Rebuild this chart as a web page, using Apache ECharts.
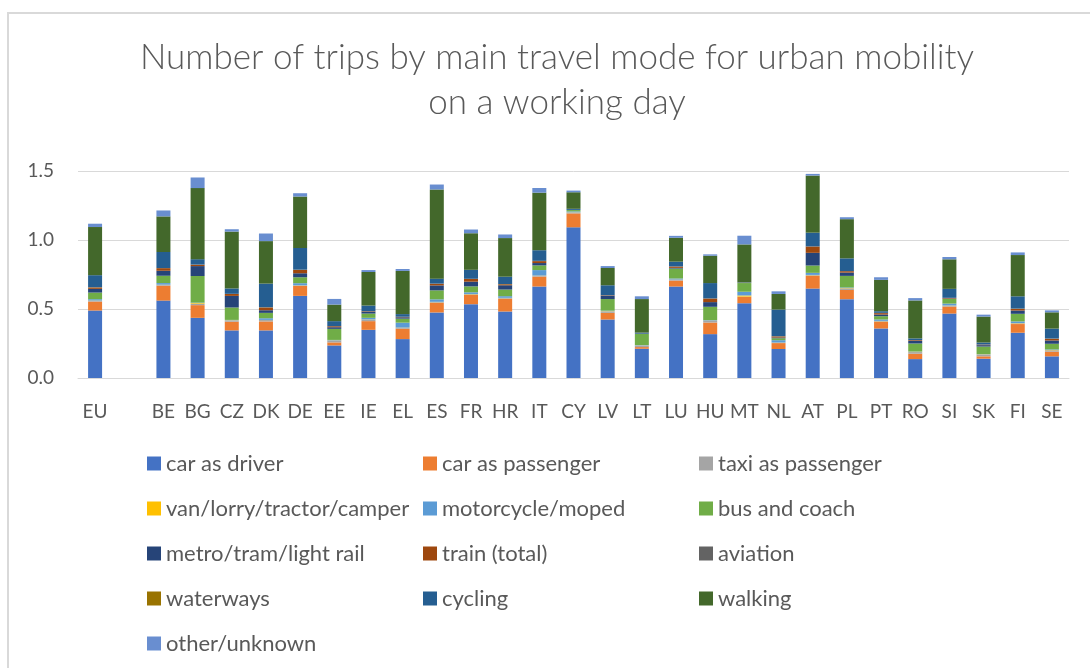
<!DOCTYPE html>
<html>
<head>
<meta charset="utf-8">
<title>urban mobility</title>
<script src="https://cdn.jsdelivr.net/npm/echarts@6/dist/echarts.min.js"></script>
<style>
  html, body { margin: 0; padding: 0; background: #fff; }
  #frame { position: absolute; left: 7px; top: 12px; width: 1200px; height: 800px;
           border-left: 2px solid #d9d9d9; border-top: 2px solid #d9d9d9; }
  #main { position: absolute; left: 0; top: 0; width: 1090px; height: 668px; }
</style>
</head>
<body>
<div id="frame"></div>
<div id="main"></div>
<script>
const countries = ['EU', '', 'BE', 'BG', 'CZ', 'DK', 'DE', 'EE', 'IE', 'EL', 'ES', 'FR', 'HR', 'IT', 'CY',
  'LV', 'LT', 'LU', 'HU', 'MT', 'NL', 'AT', 'PL', 'PT', 'RO', 'SI', 'SK', 'FI', 'SE'];

const carDriver = [0.489, null, 0.561, 0.436, 0.345, 0.345, 0.595, 0.236, 0.349, 0.282, 0.475, 0.535, 0.482, 0.663, 1.092,
  0.424, 0.212, 0.663, 0.318, 0.542, 0.210, 0.648, 0.571, 0.359, 0.137, 0.467, 0.140, 0.328, 0.157];
const carPassenger = [0.065, null, 0.108, 0.092, 0.063, 0.065, 0.072, 0.022, 0.063, 0.075, 0.070, 0.067, 0.092, 0.072, 0.101,
  0.048, 0.012, 0.043, 0.084, 0.046, 0.043, 0.092, 0.067, 0.048, 0.039, 0.051, 0.017, 0.063, 0.034];
const taxi = [0.005, null, 0.005, 0.010, 0.008, 0.010, 0.004, 0.012, 0.010, 0.006, 0.005, 0.005, 0.005, 0.005, 0.005,
  0.010, 0.010, 0.005, 0.012, 0.002, 0.003, 0.005, 0.012, 0.005, 0.012, 0.005, 0.012, 0.005, 0.010];
const van = [0.002, null, 0.002, 0.005, 0.002, 0.001, 0.001, 0.002, 0.002, 0.002, 0.002, 0.002, 0.002, 0.002, 0.002,
  0.002, 0.002, 0.002, 0.002, 0.008, 0.001, 0.002, 0.002, 0.002, 0.002, 0.002, 0.002, 0.002, 0.002];
const moto = [0.010, null, 0.012, 0.003, 0.003, 0.012, 0.015, 0.004, 0.012, 0.036, 0.018, 0.012, 0.012, 0.040, 0.007,
  0.004, 0.003, 0.008, 0.004, 0.027, 0.017, 0.015, 0.004, 0.010, 0.002, 0.014, 0.002, 0.012, 0.004];
const bus = [0.048, null, 0.053, 0.193, 0.090, 0.039, 0.043, 0.080, 0.031, 0.029, 0.065, 0.043, 0.048, 0.034, 0.010,
  0.084, 0.080, 0.072, 0.096, 0.063, 0.014, 0.053, 0.084, 0.024, 0.058, 0.034, 0.055, 0.055, 0.041];
const metro = [0.027, null, 0.036, 0.072, 0.084, 0.019, 0.029, 0.012, 0.012, 0.010, 0.036, 0.034, 0.031, 0.017, 0.000,
  0.024, 0.000, 0.005, 0.034, 0.000, 0.005, 0.092, 0.024, 0.012, 0.019, 0.003, 0.010, 0.024, 0.024];
const train = [0.010, null, 0.019, 0.010, 0.014, 0.020, 0.024, 0.007, 0.004, 0.002, 0.012, 0.020, 0.007, 0.014, 0.000,
  0.003, 0.001, 0.010, 0.026, 0.000, 0.008, 0.046, 0.010, 0.010, 0.005, 0.004, 0.004, 0.012, 0.012];
const aviation = [0.001, null, 0.001, 0.001, 0.001, 0.001, 0.001, 0.001, 0.001, 0.001, 0.001, 0.001, 0.001, 0.001, 0.001,
  0.001, 0.001, 0.001, 0.001, 0.001, 0.001, 0.001, 0.001, 0.001, 0.001, 0.001, 0.001, 0.001, 0.001];
const waterways = [0.001, null, 0.000, 0.000, 0.000, 0.001, 0.001, 0.000, 0.000, 0.001, 0.000, 0.000, 0.001, 0.001, 0.000,
  0.000, 0.000, 0.000, 0.000, 0.001, 0.001, 0.000, 0.000, 0.001, 0.000, 0.000, 0.000, 0.001, 0.001];
const cycling = [0.087, null, 0.116, 0.039, 0.039, 0.171, 0.157, 0.036, 0.041, 0.019, 0.036, 0.065, 0.053, 0.077, 0.008,
  0.072, 0.008, 0.034, 0.111, 0.003, 0.193, 0.099, 0.092, 0.012, 0.012, 0.065, 0.014, 0.089, 0.072];
const walking = [0.349, null, 0.258, 0.515, 0.412, 0.308, 0.373, 0.120, 0.243, 0.313, 0.646, 0.265, 0.280, 0.417, 0.120,
  0.125, 0.243, 0.173, 0.198, 0.275, 0.113, 0.414, 0.284, 0.227, 0.275, 0.214, 0.188, 0.299, 0.118];
const other = [0.024, null, 0.043, 0.077, 0.017, 0.055, 0.024, 0.041, 0.014, 0.014, 0.036, 0.027, 0.026, 0.034, 0.012,
  0.014, 0.020, 0.014, 0.010, 0.063, 0.019, 0.012, 0.014, 0.019, 0.017, 0.017, 0.014, 0.019, 0.014];

const yTicks = [0, 0.5, 1.0, 1.5];

const modes = [
  ['car as driver', carDriver, '#4472C4'],
  ['car as passenger', carPassenger, '#ED7D31'],
  ['taxi as passenger', taxi, '#A5A5A5'],
  ['van/lorry/tractor/camper', van, '#FFC000'],
  ['motorcycle/moped', moto, '#5B9BD5'],
  ['bus and coach', bus, '#70AD47'],
  ['metro/tram/light rail', metro, '#264478'],
  ['train (total)', train, '#9E480E'],
  ['aviation', aviation, '#636363'],
  ['waterways', waterways, '#997300'],
  ['cycling', cycling, '#255E91'],
  ['walking', walking, '#43682B'],
  ['other/unknown', other, '#698ED0']
];

const font = 'Lato, "Open Sans", sans-serif';
const names = modes.map(m => m[0]);
const legendCol = (idx, left) => ({
  orient: 'vertical',
  left: left,
  top: 452,
  padding: 0,
  itemWidth: 14,
  itemHeight: 14,
  itemGap: 22,
  icon: 'rect',
  selectedMode: false,
  data: idx.map(i => names[i]),
  textStyle: { fontFamily: font, fontSize: 22, color: '#595959', lineHeight: 23 }
});

const chart = echarts.init(document.getElementById('main'));
chart.setOption({
  animation: false,
  title: {
    text: 'Number of trips by main travel mode for urban mobility\non a working day',
    left: 552,
    top: 30,
    textAlign: 'center',
    textStyle: { fontFamily: font, fontWeight: 300, fontSize: 35, lineHeight: 45, color: '#595959' }
  },
  legend: [
    legendCol([0, 3, 6, 9, 12], 147),
    legendCol([1, 4, 7, 10], 423),
    legendCol([2, 5, 8, 11], 699)
  ],
  grid: { left: 78, top: 171, width: 991, height: 207 },
  xAxis: {
    type: 'category',
    data: countries,
    axisTick: { show: false },
    axisLine: { lineStyle: { color: '#d9d9d9', width: 1 } },
    axisLabel: { interval: 0, margin: 24, fontFamily: font, fontSize: 19, color: '#595959' }
  },
  yAxis: {
    type: 'value',
    min: yTicks[0],
    max: yTicks[yTicks.length - 1],
    interval: 0.5,
    axisLabel: { margin: 24, fontFamily: font, fontSize: 19, color: '#595959',
      formatter: v => v.toFixed(1) },
    splitLine: { lineStyle: { color: '#d9d9d9', width: 1 } }
  },
  series: modes.map(m => ({
    name: m[0],
    type: 'bar',
    stack: 'trips',
    barWidth: 14,
    data: m[1],
    itemStyle: { color: m[2] }
  }))
});
</script>
</body>
</html>
